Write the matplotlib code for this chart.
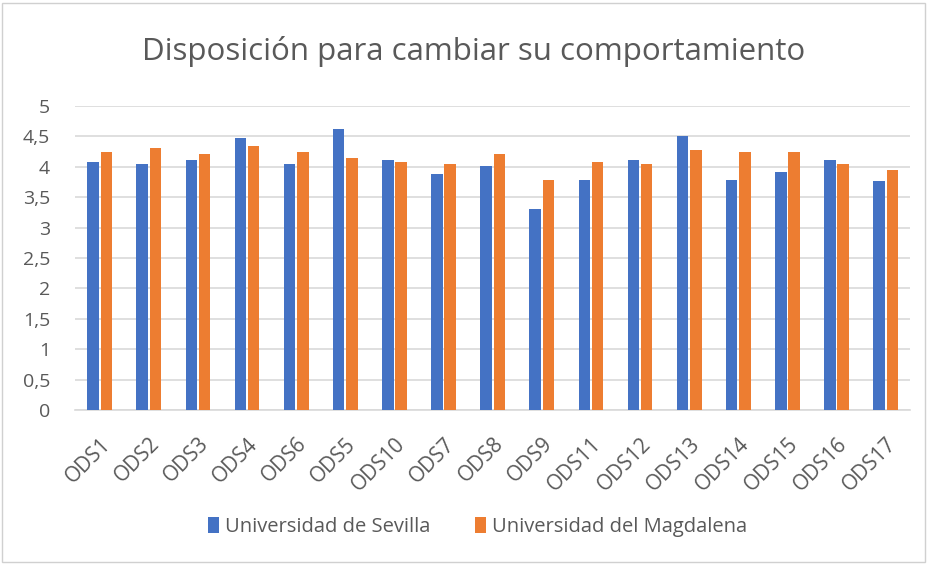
import matplotlib.pyplot as plt
from matplotlib.patches import Rectangle
import numpy as np

categories = ['ODS1', 'ODS2', 'ODS3', 'ODS4', 'ODS6', 'ODS5', 'ODS10', 'ODS7', 'ODS8',
              'ODS9', 'ODS11', 'ODS12', 'ODS13', 'ODS14', 'ODS15', 'ODS16', 'ODS17']
sevilla = [4.08, 4.05, 4.12, 4.47, 4.05, 4.63, 4.12, 3.89, 4.02,
           3.31, 3.79, 4.12, 4.50, 3.79, 3.92, 4.12, 3.77]
magdalena = [4.24, 4.31, 4.21, 4.34, 4.24, 4.15, 4.08, 4.05, 4.21,
             3.79, 4.08, 4.05, 4.28, 4.24, 4.24, 4.05, 3.95]
yticks = [0, 0.5, 1, 1.5, 2, 2.5, 3, 3.5, 4, 4.5, 5]
ytick_labels = ['0', '0,5', '1', '1,5', '2', '2,5', '3', '3,5', '4', '4,5', '5']

plt.rcParams['font.family'] = ['Open Sans', 'DejaVu Sans']
text_color = '#595959'

fig = plt.figure(figsize=(9.27, 5.64), dpi=100)
ax = fig.add_axes([0.081, 0.273, 0.901, 0.539])

x = np.arange(len(categories))
w = 0.235
ax.bar(x - 0.135, sevilla, w, color='#4472C4', label='Universidad de Sevilla', zorder=3)
ax.bar(x + 0.135, magdalena, w, color='#ED7D31', label='Universidad del Magdalena', zorder=3)

ax.set_xlim(-0.5, len(categories) - 0.5)
ax.set_ylim(0, 5)
ax.set_yticks(yticks)
ax.set_yticklabels(ytick_labels, fontsize=14, color=text_color)
ax.set_xticks(x)
ax.set_xticklabels(categories, rotation=45, ha='right', rotation_mode='anchor',
                   fontsize=15, color=text_color)
ax.tick_params(axis='y', length=0, pad=18)
ax.tick_params(axis='x', length=0, pad=17)
ax.grid(axis='y', color='#D9D9D9', linewidth=1.2, zorder=0)
for s in ['top', 'right', 'left']:
    ax.spines[s].set_visible(False)
ax.spines['bottom'].set_color('#D9D9D9')
ax.spines['bottom'].set_linewidth(1.2)

fig.text(0.511, 0.908, 'Disposición para cambiar su comportamiento', ha='center', va='center',
         fontsize=22.5, color=text_color)

fig.legend(loc='center', bbox_to_anchor=(0.515, 0.065), ncol=2, frameon=False,
           fontsize=14.5, handlelength=0.55, handleheight=0.85, handletextpad=0.3,
           columnspacing=2.2, labelcolor=text_color)

fig.patches.append(Rectangle((0.002, 0.004), 0.996, 0.99, transform=fig.transFigure,
                             fill=False, edgecolor='#D0D0D0', linewidth=1))

fig.savefig('out.png', dpi=100)
